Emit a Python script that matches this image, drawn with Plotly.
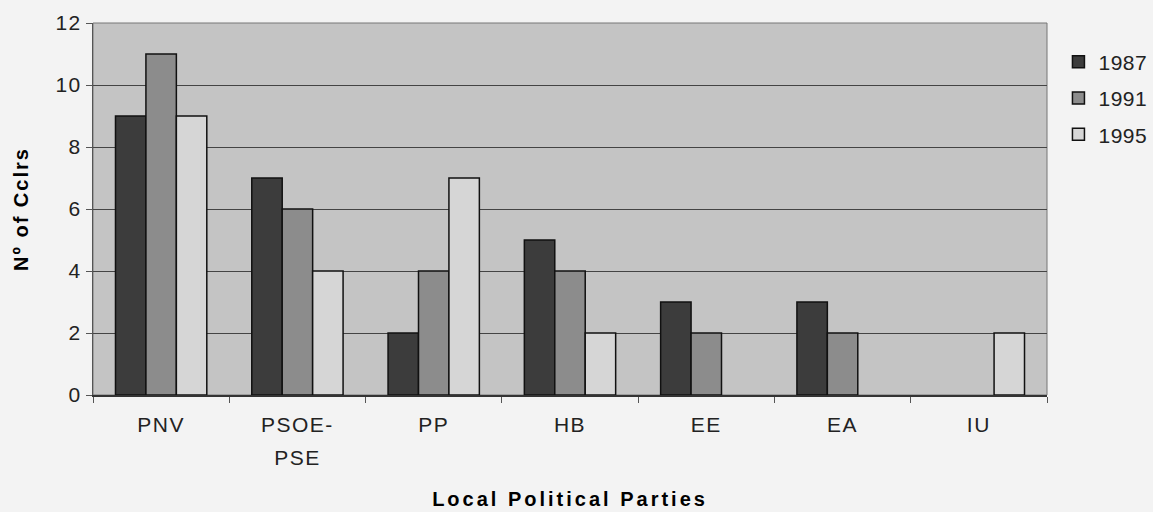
import plotly.graph_objects as go

parties = ["PNV", "PSOE-<br>PSE", "PP", "HB", "EE", "EA", "IU"]
years = ["1987", "1991", "1995"]
v1987 = [9, 7, 2, 5, 3, 3, 0]
v1991 = [11, 6, 4, 4, 2, 2, 0]
v1995 = [9, 4, 7, 2, 0, 0, 2]
colors = ["#3c3c3c", "#8c8c8c", "#d6d6d6"]

fig = go.Figure()
for name, vals, col in zip(years, [v1987, v1991, v1995], colors):
    widths = [1.5 if v > 0 else 0 for v in vals]
    fig.add_trace(go.Bar(x=parties, y=vals, name=name, legendgroup=name,
                         marker=dict(color=col, line=dict(color="#111111", width=widths))))

font = "Liberation Sans, Arial, sans-serif"
fig.update_layout(
    width=1153, height=512,
    margin=dict(l=93, r=106, t=23, b=117, autoexpand=False),
    paper_bgcolor="#f3f3f3",
    plot_bgcolor="#c4c4c4",
    bargap=0.33, bargroupgap=0,
    font=dict(family=font, size=21, color="#222222"),
    legend=dict(x=1.012, y=0.95, xanchor="left", yanchor="top",
                font=dict(size=21), itemwidth=30, tracegroupgap=6,
                bgcolor="rgba(0,0,0,0)"),
    xaxis=dict(title=dict(text="<b>Local Political Parties</b>", font=dict(size=20, color="#000"), standoff=30),
               automargin=False, ticklabelstandoff=10,
               tickson="boundaries", ticks="outside", ticklen=6, tickcolor="#555",
               showline=True, linecolor="#333", linewidth=1.5, mirror=False,
               tickfont=dict(size=21)),
    yaxis=dict(title=dict(text="<b>Nº of Cclrs</b>", font=dict(size=20, color="#000"), standoff=24),
               automargin=False,
               range=[0, 12], dtick=2, showgrid=True, gridcolor="#444444", gridwidth=1,
               ticks="outside", ticklen=6, tickcolor="#555",
               showline=True, linecolor="#555", linewidth=1, zeroline=False,
               tickfont=dict(size=21)),
)
fig.add_shape(type="rect", xref="paper", yref="paper", x0=0, y0=0, x1=1, y1=1,
              line=dict(color="#777777", width=1), layer="below")

post = """
document.body.style.margin='0';
document.body.style.background='#f3f3f3';
var st=document.createElement('style');
st.textContent='.xtick text, .ytick text{letter-spacing:1.5px} .legendtext{letter-spacing:0.5px} .xtitle{letter-spacing:3px} .ytitle{letter-spacing:2px}';
document.head.appendChild(st);
document.querySelectorAll('.xtick text tspan.line').forEach(function(t){
  var dy=t.getAttribute('dy'); if(dy && parseFloat(dy)>0){t.setAttribute('dy','1.55em');}
});
"""
fig.write_html("out.html", config={"displayModeBar": False}, post_script=post)
